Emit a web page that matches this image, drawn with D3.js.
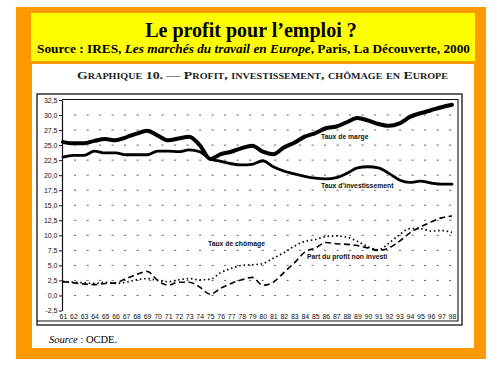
<!DOCTYPE html>
<html><head><meta charset="utf-8">
<script src="https://cdn.jsdelivr.net/npm/d3@7"></script>
<style>html,body{margin:0;padding:0;background:#fff;}svg{display:block;}</style>
</head><body>
<svg id="c" width="500" height="369"></svg>
<script>
const years = d3.range(61, 99);
const tauxMarge = [25.5,25.3,25.3,25.7,26.0,25.8,26.3,26.9,27.4,26.6,25.8,26.1,26.4,25.0,22.7,23.5,23.9,24.5,24.9,23.9,23.5,24.6,25.4,26.4,27.0,27.8,28.1,28.8,29.5,29.1,28.5,28.2,28.6,29.7,30.3,30.8,31.3,31.7];
const tauxInvest = [23.0,23.3,23.3,24.0,23.7,23.7,23.4,23.4,23.4,24.0,24.0,23.9,24.2,23.9,22.7,22.3,21.9,21.7,21.8,22.4,21.4,20.7,20.2,19.8,19.5,19.4,19.6,20.3,21.2,21.4,21.2,20.3,19.2,18.8,19.0,18.7,18.5,18.5];
const tauxChomage = [2.3,2.2,2.1,2.0,2.2,2.0,2.2,2.6,2.8,2.5,2.3,2.6,2.8,2.6,2.7,3.8,4.5,5.0,5.1,5.3,6.2,7.1,8.2,9.0,9.3,9.8,9.9,9.7,9.0,8.1,7.6,8.7,10.1,11.1,11.1,10.7,10.8,10.5];
const partProfit = [2.3,2.1,1.9,1.8,2.0,2.1,2.8,3.5,4.0,2.5,1.7,2.2,2.2,1.4,0.2,1.2,2.0,2.6,3.0,1.7,2.2,3.8,5.4,7.2,7.9,8.8,8.6,8.5,8.3,7.9,7.5,7.9,9.0,10.4,11.4,12.2,12.9,13.2];
const yTicks = d3.range(-2.5, 32.6, 2.5);
const gridValues = d3.range(0, 30.1, 2.5);
const seriesLabels = ["Taux de marge","Taux d’investissement","Taux de chômage","Part du profit non investi"];

const svg = d3.select("#c");
// frames
svg.append("rect").attr("x",16).attr("y",7).attr("width",470).attr("height",352).attr("fill","#ff9900");
svg.append("rect").attr("x",31).attr("y",13).attr("width",444).attr("height",48).attr("fill","#ffff00");
svg.append("rect").attr("x",32).attr("y",64).attr("width",442).attr("height",284).attr("fill","#ffffff");

// titles
svg.append("text").attr("x",251).attr("y",37).attr("text-anchor","middle")
  .style("font-family","'Liberation Serif','Times New Roman',serif").style("font-weight","bold").style("font-size","20px")
  .text("Le profit pour l’emploi ?");
const sub = svg.append("text").attr("x",253.5).attr("y",53).attr("text-anchor","middle")
  .attr("textLength",433).attr("lengthAdjust","spacingAndGlyphs")
  .style("font-family","'Liberation Serif','Times New Roman',serif").style("font-weight","bold").style("font-size","12.8px");
sub.append("tspan").text("Source : IRES, ");
sub.append("tspan").style("font-style","italic").text("Les marchés du travail en Europe");
sub.append("tspan").text(", Paris, La Découverte, 2000");
svg.append("text").attr("x",262.5).attr("y",79).attr("text-anchor","middle")
  .attr("textLength",371).attr("lengthAdjust","spacingAndGlyphs")
  .style("font-family","'Liberation Serif','Times New Roman',serif").style("font-weight","bold").style("font-size","11px")
  .style("font-variant","small-caps").style("fill","#222")
  .text("Graphique 10. — Profit, investissement, chômage en Europe");

// chart frame
svg.append("rect").attr("x",37).attr("y",94).attr("width",425).attr("height",231).attr("fill","none").attr("stroke","#111").attr("stroke-width",1.3);
svg.append("path").attr("d","M62,99.5H458V321H37").attr("fill","none").attr("stroke","#111").attr("stroke-width",1.1);

const x = d3.scaleLinear().domain([61,98]).range([63,452]);
const y = d3.scaleLinear().domain([-2.5,32.5]).range([310.5,100]);

// grid
svg.append("g").selectAll("line").data(gridValues).join("line")
  .attr("x1",74).attr("x2",456).attr("y1",d=>y(d)).attr("y2",d=>y(d))
  .attr("stroke","#666").attr("stroke-width",1).attr("stroke-dasharray","2.2,10.3");

// y axis
const fmt = v => d3.format(".1f")(v).replace(".",",").replace("−","-");
const ya = svg.append("g").attr("transform","translate(62,0)")
  .call(d3.axisLeft(y).tickValues(yTicks).tickFormat(fmt).tickSize(3).tickSizeOuter(0).tickPadding(1.5));
ya.select(".domain").attr("stroke","#111").attr("stroke-width",1.2);
ya.selectAll(".tick line").attr("stroke","#111");
ya.selectAll("text").style("font-family","'Liberation Sans',Arial,sans-serif").style("font-size","7px").style("fill","#111");

// x axis labels
const xa = svg.append("g").attr("transform","translate(0,311)")
  .call(d3.axisBottom(x).tickValues(years).tickFormat(d=>String(d)).tickSize(0).tickPadding(3));
xa.select(".domain").remove();
xa.selectAll("text").style("font-family","'Liberation Sans',Arial,sans-serif").style("font-size","7px").style("fill","#111");

const line = d3.line().x((d,i)=>x(years[i])).y(d=>y(d)).curve(d3.curveMonotoneX);
const g = svg.append("g").attr("fill","none").attr("stroke","#000").attr("stroke-linecap","round").attr("stroke-linejoin","round");
g.append("path").attr("d",line(tauxMarge)).attr("stroke-width",4);
g.append("path").attr("d",line(tauxInvest)).attr("stroke-width",2.8);
g.append("path").attr("d",line(tauxChomage)).attr("stroke-width",1.7).attr("stroke-dasharray","1.5,2.8").attr("stroke-linecap","butt");
g.append("path").attr("d",line(partProfit)).attr("stroke-width",1.6).attr("stroke-dasharray","6,3.5").attr("stroke-linecap","butt");

// labels
const lab = [[seriesLabels[0],321,139],[seriesLabels[1],321,188],[seriesLabels[2],208,245.5],[seriesLabels[3],307,259]];
svg.append("g").selectAll("text").data(lab).join("text")
  .attr("x",d=>d[1]).attr("y",d=>d[2]).text(d=>d[0])
  .style("font-family","'Liberation Sans',Arial,sans-serif").style("font-size","6.8px").style("font-weight","bold").style("fill","#111");

// source
const src = svg.append("text").attr("x",49).attr("y",343)
  .style("font-family","'Liberation Serif','Times New Roman',serif").style("font-size","10.5px");
src.append("tspan").style("font-style","italic").text("Source");
src.append("tspan").text(" : OCDE.");
</script>
</body></html>
